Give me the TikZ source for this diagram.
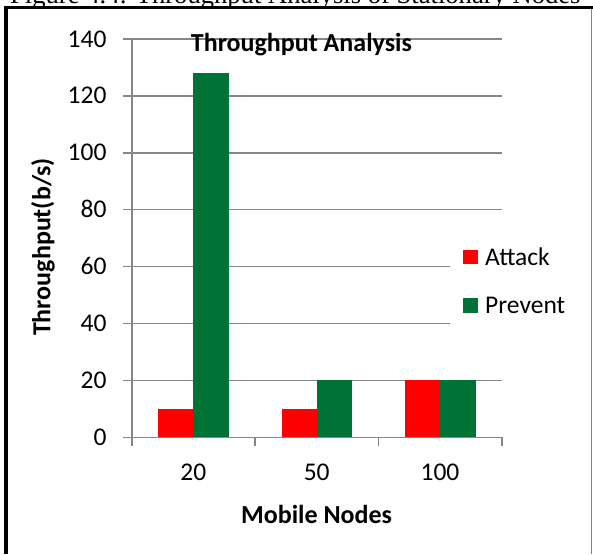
\documentclass[tikz,border=0pt]{standalone}
\usepackage{fontspec}
\setmainfont{Carlito}
\newfontfamily\capfont{Liberation Serif}
\definecolor{attackred}{RGB}{255,0,0}
\definecolor{preventgreen}{RGB}{0,114,54}
\definecolor{gridgray}{RGB}{134,134,134}

\begin{document}
\begin{tikzpicture}[x=1pt,y=-1pt,
  lbl/.style={font=\fontsize{25.5}{30}\selectfont, inner sep=0pt},
  boldlbl/.style={font=\fontsize{26}{30}\selectfont\bfseries, inner sep=0pt},
  gridline/.style={draw=gridgray, line width=1.5pt},
  axisline/.style={draw=gridgray, line width=1.6pt}]
\useasboundingbox (0,0) rectangle (593,554);
\fill[white] (0,0) rectangle (593,554);

% caption line of the page, mostly above the frame
\node[anchor=base west, inner sep=0pt, font=\capfont\fontsize{26.6}{30}\selectfont]
  (caption) at (10,3.2) {Figure 4.4: Throughput Analysis of Stationary Nodes};

% frame
\fill[white] (4,6) rectangle (593,554);
\fill[black] (4,6) rectangle (593,9);
\fill[black] (4,6) rectangle (8,554);
\draw[gridgray, line width=0.8pt] (591.7,9) -- (591.7,554);

% value v maps to y = 437.3 - 2.845 v
% horizontal gridlines with outside ticks
\foreach \v in {20,40,...,140}
  \draw[gridline] (123.3,{437.3-2.845*\v}) -- (501.7,{437.3-2.845*\v});

% value axis labels
\foreach \v in {0,20,...,140}
  \node[lbl, anchor=base east] (ylab\v) at (106.7,{437.3-2.845*\v+8}) {\v};

% bars: Attack (red) and Prevent (green)
\fill[attackred]    (158.3,437.3) rectangle (193.3,{437.3-2.845*10});
\fill[preventgreen] (193.3,437.3) rectangle (229.0,{437.3-2.845*128});
\fill[attackred]    (281.7,437.3) rectangle (317.0,{437.3-2.845*10});
\fill[preventgreen] (317.0,437.3) rectangle (352.0,{437.3-2.845*20});
\fill[attackred]    (405.3,437.3) rectangle (440.3,{437.3-2.845*20});
\fill[preventgreen] (440.3,437.3) rectangle (476.0,{437.3-2.845*20});

% axes
\draw[axisline] (131.7,39) -- (131.7,437.3);
\draw[axisline] (123.3,437.3) -- (501.7,437.3);
\foreach \x in {131.7,255,378.3,501.7}
  \draw[axisline] (\x,437.3) -- (\x,446);

% category labels
\node[lbl, anchor=base] (c20)  at (193.3,480) {20};
\node[lbl, anchor=base] (c50)  at (316.7,480) {50};
\node[lbl, anchor=base] (c100) at (440.0,480) {100};

% titles
\node[boldlbl, anchor=base] (title) at (301.4,51.7) {Throughput Analysis};
\node[boldlbl, anchor=base] (xtitle) at (316.6,523.4) {Mobile Nodes};
\node[boldlbl, rotate=90] (ytitle) at (43,247) {Throughput(b/s)};

% legend
\fill[white] (450,234) rectangle (585,342);
\fill[attackred]    (463.3,250.0) rectangle (477.7,264.3);
\fill[preventgreen] (463.3,298.3) rectangle (477.7,312.7);
\node[lbl, anchor=base west] (legA) at (485,265) {Attack};
\node[lbl, anchor=base west] (legP) at (485,313.3) {Prevent};
\end{tikzpicture}
\end{document}
